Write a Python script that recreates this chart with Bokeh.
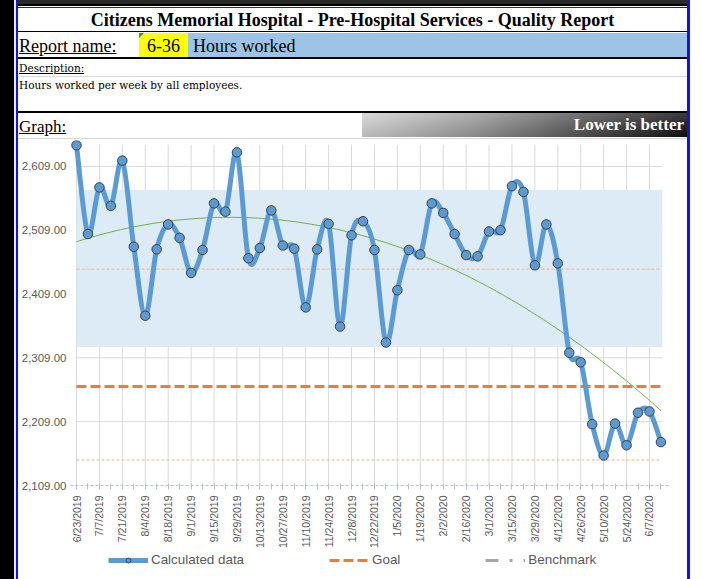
import math
import numpy as np
from bokeh.plotting import figure
from bokeh.layouts import row, column
from bokeh.models import Range1d, FixedTicker, NumeralTickFormatter, Legend, LegendItem, Div
from bokeh.embed import file_html
from bokeh.resources import INLINE

# ---------------- data ----------------
week_dates = [
    "6/23/2019", "6/30/2019", "7/7/2019", "7/14/2019", "7/21/2019", "7/28/2019",
    "8/4/2019", "8/11/2019", "8/18/2019", "8/25/2019", "9/1/2019", "9/8/2019",
    "9/15/2019", "9/22/2019", "9/29/2019", "10/6/2019", "10/13/2019", "10/20/2019",
    "10/27/2019", "11/3/2019", "11/10/2019", "11/17/2019", "11/24/2019", "12/1/2019",
    "12/8/2019", "12/15/2019", "12/22/2019", "12/29/2019", "1/5/2020", "1/12/2020",
    "1/19/2020", "1/26/2020", "2/2/2020", "2/9/2020", "2/16/2020", "2/23/2020",
    "3/1/2020", "3/8/2020", "3/15/2020", "3/22/2020", "3/29/2020", "4/5/2020",
    "4/12/2020", "4/19/2020", "4/26/2020", "5/3/2020", "5/10/2020", "5/17/2020",
    "5/24/2020", "5/31/2020", "6/7/2020", "6/14/2020",
]
hours_worked = [
    2642, 2503, 2576, 2547, 2618, 2483, 2375, 2479, 2518, 2497, 2442, 2478,
    2551, 2538, 2631, 2465, 2481, 2540, 2485, 2480, 2388, 2479, 2519, 2358,
    2501, 2523, 2478, 2333, 2415, 2478, 2471, 2551, 2536, 2503, 2470, 2468,
    2507, 2509, 2578, 2569, 2454, 2518, 2457, 2317, 2302, 2205, 2156, 2206,
    2172, 2223, 2225, 2177,
]
goal_value = 2264
benchmark_values = [float("nan")] * len(week_dates)   # blank series, legend only
mean_line = 2448
lower_line = 2149
band_low = 2326
band_high = 2572
y_ticks = [2109, 2209, 2309, 2409, 2509, 2609]
legend_labels = ["Calculated data", "Goal", "Benchmark"]

report_title = "Citizens Memorial Hospital - Pre-Hospital Services - Quality Report"
report_code = "6-36"
report_name = "Hours worked"
description = "Hours worked per week by all employees."

BLUE_COL = "#5B9BD5"
GOAL_COL = "#ED7D31"
BENCH_COL = "#A5A5A5"
BORDER_BLUE = "#1414E0"

# ---------------- side strips (HTML) ----------------
left = Div(text="", width=18, height=579, margin=(0, 0, 0, 0),
           styles={"background": "linear-gradient(to right, #000 0px, #000 14px, #e8e8e8 14px, "
                                 "#e8e8e8 16.4px, %s 16.4px, %s 18px)" % (BORDER_BLUE, BORDER_BLUE),
                   "padding": "0", "margin": "0"})
right = Div(text="", width=15, height=579, margin=(0, 0, 0, 0),
            styles={"background": "linear-gradient(to right, %s 0px, %s 3px, #fff 3px, #fff 15px)"
                                  % (BORDER_BLUE, BORDER_BLUE),
                    "padding": "0", "margin": "0"})

# ---------------- header (HTML) ----------------
OX, OY = 18, 0


def box(x0, y0, x1, y1, bg):
    return ('<div style="position:absolute;left:%.1fpx;top:%.1fpx;width:%.1fpx;height:%.1fpx;'
            'background:%s"></div>' % (x0 - OX, y0 - OY, x1 - x0, y1 - y0, bg))


def txt(x, yc, s, font, size, extra="", lh=24, align="left"):
    style = ("position:absolute;top:%.1fpx;height:%dpx;line-height:%dpx;white-space:nowrap;"
             "font-family:'%s';font-size:%s;color:#000;%s" % (yc - OY - lh / 2, lh, lh, font, size, extra))
    if align == "left":
        style += "left:%.1fpx;" % (x - OX)
    elif align == "right":
        style += "right:%.1fpx;text-align:right;" % (687 - x)
    else:
        style += "left:0px;width:%dpx;text-align:center;" % (687 - OX)
    return '<div style="%s">%s</div>' % (style, s)


parts = []
# top sheet edge
parts.append(box(18, 0, 687, 4, "#2a2a2a"))
parts.append(box(18, 4, 687, 6.2, "#000"))
parts.append(box(18, 6.5, 687, 7.8, BORDER_BLUE))
# rows
parts.append(box(188, 32.5, 687, 56.7, "#9DC3E6"))
parts.append(box(139, 33, 188, 56.7, "#FFFF00"))
parts.append('<div style="position:absolute;left:%dpx;top:%dpx;width:0;height:0;'
             'border-top:5px solid #2E9E3E;border-right:5px solid transparent"></div>' % (139 - OX, 33 - OY))
parts.append(box(18, 30.7, 687, 32.5, "#000"))
parts.append(box(18, 56.7, 687, 58.7, "#000"))
parts.append(box(18, 110.6, 687, 112.8, "#000"))
parts.append(box(18, 75.5, 687, 76.5, "#D6D6D6"))
parts.append(box(18, 138, 687, 139, "#D6D6D6"))
parts.append(box(362, 113.3, 687, 136.7,
                 "linear-gradient(to bottom, rgba(255,255,255,0.18), rgba(0,0,0,0.12)), "
                 "linear-gradient(to right, #d2d2d2 0%, #9a9a9a 35%, #5a5a5a 65%, #101010 100%)"))
parts.append(txt(352.5, 20, report_title, "Liberation Serif", "18px", "font-weight:bold;", align="center"))
parts.append(txt(19, 45.5, "Report name:", "Liberation Serif", "18px", "text-decoration:underline;"))
parts.append(txt(147, 45.5, report_code, "Liberation Serif", "18px"))
parts.append(txt(193, 45.5, report_name, "Liberation Serif", "18px"))
parts.append(txt(19, 67.5, "Description:", "DejaVu Serif", "10.5px", "text-decoration:underline;", lh=14))
parts.append(txt(19, 85, description, "DejaVu Serif", "10.5px", lh=14))
parts.append(txt(19, 127, "Graph:", "Liberation Serif", "17px", "text-decoration:underline;", lh=22))
parts.append(txt(684, 125, "Lower is better", "Liberation Serif", "17px",
                 "font-weight:bold;color:#fff;", lh=22, align="right"))

header_html = ('<div style="position:relative;width:%dpx;height:%dpx;overflow:hidden;background:#fff">%s</div>'
               % (687 - OX, 140 - OY, "".join(parts)))
hdr = Div(text=header_html, width=669, height=140, margin=(0, 0, 0, 0),
          styles={"padding": "0", "margin": "0"})

# ---------------- chart ----------------
n = len(hours_worked)
idx = np.arange(n, dtype=float)
hours = np.array(hours_worked, dtype=float)

p = figure(width=669, height=411, x_range=Range1d(-0.5236, 51.66), y_range=Range1d(2109, 2649.5),
           output_backend="svg", toolbar_location=None,
           min_border_left=52, min_border_right=19, min_border_top=0, min_border_bottom=64,
           outline_line_color=None, margin=(0, 0, 0, 0))
p.xgrid.visible = False
p.ygrid.visible = False

band_right = n - 1 + 0.12
major_idx = list(range(0, n, 2))
minor_idx = list(range(1, n, 2))
top_val = 2643

p.segment(x0=[0] * (len(y_ticks) - 1), x1=[band_right] * (len(y_ticks) - 1),
          y0=y_ticks[1:], y1=y_ticks[1:], line_color="#D9D9D9", line_width=1)
p.segment(x0=major_idx, x1=major_idx, y0=[y_ticks[0]] * len(major_idx), y1=[top_val] * len(major_idx),
          line_color="#D9D9D9", line_width=1)
p.quad(left=[0], right=[band_right], bottom=[band_low], top=[band_high],
       fill_color="#DDEBF7", line_color=None)
p.line(idx, [mean_line] * n, line_color="#F4B183", line_width=1, line_dash="3 2")
p.line(idx, [lower_line] * n, line_color="#F4B183", line_width=1, line_dash="3 2")
p.line(idx, [goal_value] * n, line_color=GOAL_COL, line_width=3, line_dash="10 4")
p.line(idx, benchmark_values, line_color=BENCH_COL, line_width=3, line_dash="13 11 3 11 3 11")
coef = np.polyfit(idx, hours, 2)
tx = np.linspace(0, n - 1, 200)
p.line(tx, np.polyval(coef, tx), line_color="#70AD47", line_width=1)
# smoothed data line: Bezier segments through the data points
Xp = np.r_[idx[0], idx[:-1]]
Yp = np.r_[hours[0], hours[:-1]]
Xn = np.r_[idx[1:], idx[-1]]
Yn = np.r_[hours[1:], hours[-1]]
Tx = (Xn - Xp) / 6.0
Ty = (Yn - Yp) / 6.0
p.bezier(x0=idx[:-1], y0=hours[:-1], x1=idx[1:], y1=hours[1:],
         cx0=idx[:-1] + Tx[:-1], cy0=hours[:-1] + Ty[:-1],
         cx1=idx[1:] - Tx[1:], cy1=hours[1:] - Ty[1:],
         line_color=BLUE_COL, line_width=5, line_cap="round")
p.scatter(idx, hours, size=9.5, fill_color=BLUE_COL, line_color="#3F3F3F", line_width=1)

xa = p.xaxis[0]
xa.ticker = FixedTicker(ticks=major_idx, minor_ticks=minor_idx)
xa.major_label_overrides = {i: week_dates[i] for i in major_idx}
xa.major_label_orientation = math.pi / 2
xa.major_label_text_font = "Liberation Sans"
xa.major_label_text_font_size = "10.5px"
xa.major_label_text_color = "#595959"
xa.major_label_standoff = 6
xa.axis_line_color = "#F4B183"
xa.axis_line_dash = "3 2"
xa.major_tick_in = 2
xa.major_tick_out = 4
xa.minor_tick_in = 2
xa.minor_tick_out = 4
xa.major_tick_line_color = "#BFBFBF"
xa.minor_tick_line_color = "#BFBFBF"

ya = p.yaxis[0]
ya.ticker = FixedTicker(ticks=y_ticks)
ya.formatter = NumeralTickFormatter(format="0,0.00")
ya.axis_line_color = None
ya.major_tick_in = 0
ya.major_tick_out = 0
ya.minor_tick_line_color = None
ya.major_label_standoff = 4
ya.major_label_text_font = "Liberation Sans"
ya.major_label_text_font_size = "11.5px"
ya.major_label_text_color = "#595959"

# ---------------- legend strip ----------------
lg = figure(width=669, height=28, x_range=Range1d(0, 1), y_range=Range1d(0, 1),
            output_backend="svg", toolbar_location=None, x_axis_location=None, y_axis_location=None,
            min_border=0, outline_line_color=None, margin=(0, 0, 0, 0))
lg.grid.visible = False
nan2 = [float("nan")] * 2
l_cd = lg.line([0, 1], nan2, line_color=BLUE_COL, line_width=5)
l_cdm = lg.scatter([0, 1], nan2, size=9, fill_color=BLUE_COL, line_color="#3F3F3F", line_width=1)
l_goal = lg.line([0, 1], nan2, line_color=GOAL_COL, line_width=3, line_dash="10 4")
l_bench = lg.line([0, 1], nan2, line_color=BENCH_COL, line_width=3, line_dash="13 11 3 11 3 11")
legend = Legend(items=[
    LegendItem(label=legend_labels[0], renderers=[l_cd, l_cdm]),
    LegendItem(label=legend_labels[1], renderers=[l_goal]),
    LegendItem(label=legend_labels[2], renderers=[l_bench]),
], orientation="horizontal", location=(38, 12), spacing=85, glyph_width=40, glyph_height=12,
    label_height=14, label_standoff=3, padding=0, margin=0, border_line_color=None,
    background_fill_alpha=0, label_text_font="Liberation Sans", label_text_font_size="13.4px",
    label_text_color="#595959", label_text_baseline="middle")
lg.add_layout(legend)

layout = row(left, column(hdr, p, lg, spacing=0), right, spacing=0)

with open("out.html", "w") as f:
    f.write(file_html(layout, INLINE))
